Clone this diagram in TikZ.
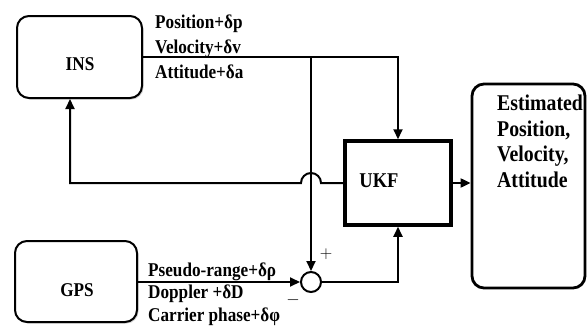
\documentclass[tikz,border=0pt]{standalone}
\usepackage{fontspec}
\setmainfont{Liberation Serif}[FakeStretch=0.88]
\usetikzlibrary{arrows.meta,shadows}
\begin{document}
\begin{tikzpicture}[x=1pt,y=-1pt]
    \tikzstyle{wire}=[line width=2pt]
    \tikzstyle{arrow}=[wire,-{Triangle[length=10pt,width=9pt]}]
    \tikzstyle{sensor}=[draw,line width=2pt,rounded corners=12pt,fill=white,inner sep=0pt,drop shadow={shadow xshift=1.5pt,shadow yshift=-1.5pt,opacity=0.35}]
    \tikzstyle{tag}=[font=\fontsize{19.5}{22}\selectfont\bfseries,inner sep=0pt,anchor=base west]
    \tikzstyle{sign}=[font=\fontsize{16}{16}\selectfont,inner sep=0pt]
    \useasboundingbox (0,0) rectangle (587,327);
    % sensors
    \node[sensor,minimum width=125pt,minimum height=82pt] (ins) at (79.5,57) {};
    \node[tag,anchor=center] (insname) at (80,64) {INS};
    \node[sensor,minimum width=122pt,minimum height=81pt] (gps) at (76,281.5) {};
    \node[tag,anchor=center] (gpsname) at (77,290) {GPS};
    % filter and output
    \node[draw,line width=3.5pt,inner sep=0pt,minimum width=106pt,minimum height=84pt] (ukf) at (398,183) {};
    \node[tag,font=\fontsize{21}{22}\selectfont\bfseries,anchor=center] (ukfname) at (379,181) {UKF};
    \node[draw,line width=2.8pt,rounded corners=12pt,inner sep=0pt,minimum width=113pt,minimum height=204pt] (est) at (528.5,186) {};
    \node[tag,font=\fontsize{22.5}{25.5}\selectfont\bfseries,anchor=north west,align=left] (esttext) at (497,95) {Estimated\\Position,\\Velocity,\\Attitude};
    % summing junction
    \node[draw,circle,line width=2pt,minimum size=20pt,inner sep=0pt] (sum) at (311,282) {};
    \node[sign] (plus) at (326,254) {$+$};
    \node[sign] (minus) at (293,300) {$-$};
    \coordinate (split) at (sum.north |- ins.east);
    % INS branch
    \draw [arrow] (ins.east) -| (ukf.north);
    \draw [arrow] (split) -- (sum.north);
    \node[tag] (pos) at (155,28) {Position+δp};
    \node[tag] (vel) at (155,53) {Velocity+δv};
    \node[tag] (att) at (155,78) {Attitude+δa};
    % GPS branch
    \draw [arrow] (gps.east |- sum.west) -- (sum.west);
    \draw [arrow] (sum.east) -| (ukf.south);
    \node[tag] (pr) at (148,276) {Pseudo-range+δρ};
    \node[tag] (dop) at (148,298) {Doppler +δD};
    \node[tag] (cp) at (148,321) {Carrier phase+δφ};
    % output and feedback to INS
    \draw [arrow] (ukf.east) -- (ukf.east -| est.west);
    \draw [arrow] (ukf.west) -- ([xshift=10pt]split |- ukf.west) arc[start angle=0,end angle=180,radius=10pt] -| ([xshift=-9.5pt]ins.south);
\end{tikzpicture}
\end{document}
